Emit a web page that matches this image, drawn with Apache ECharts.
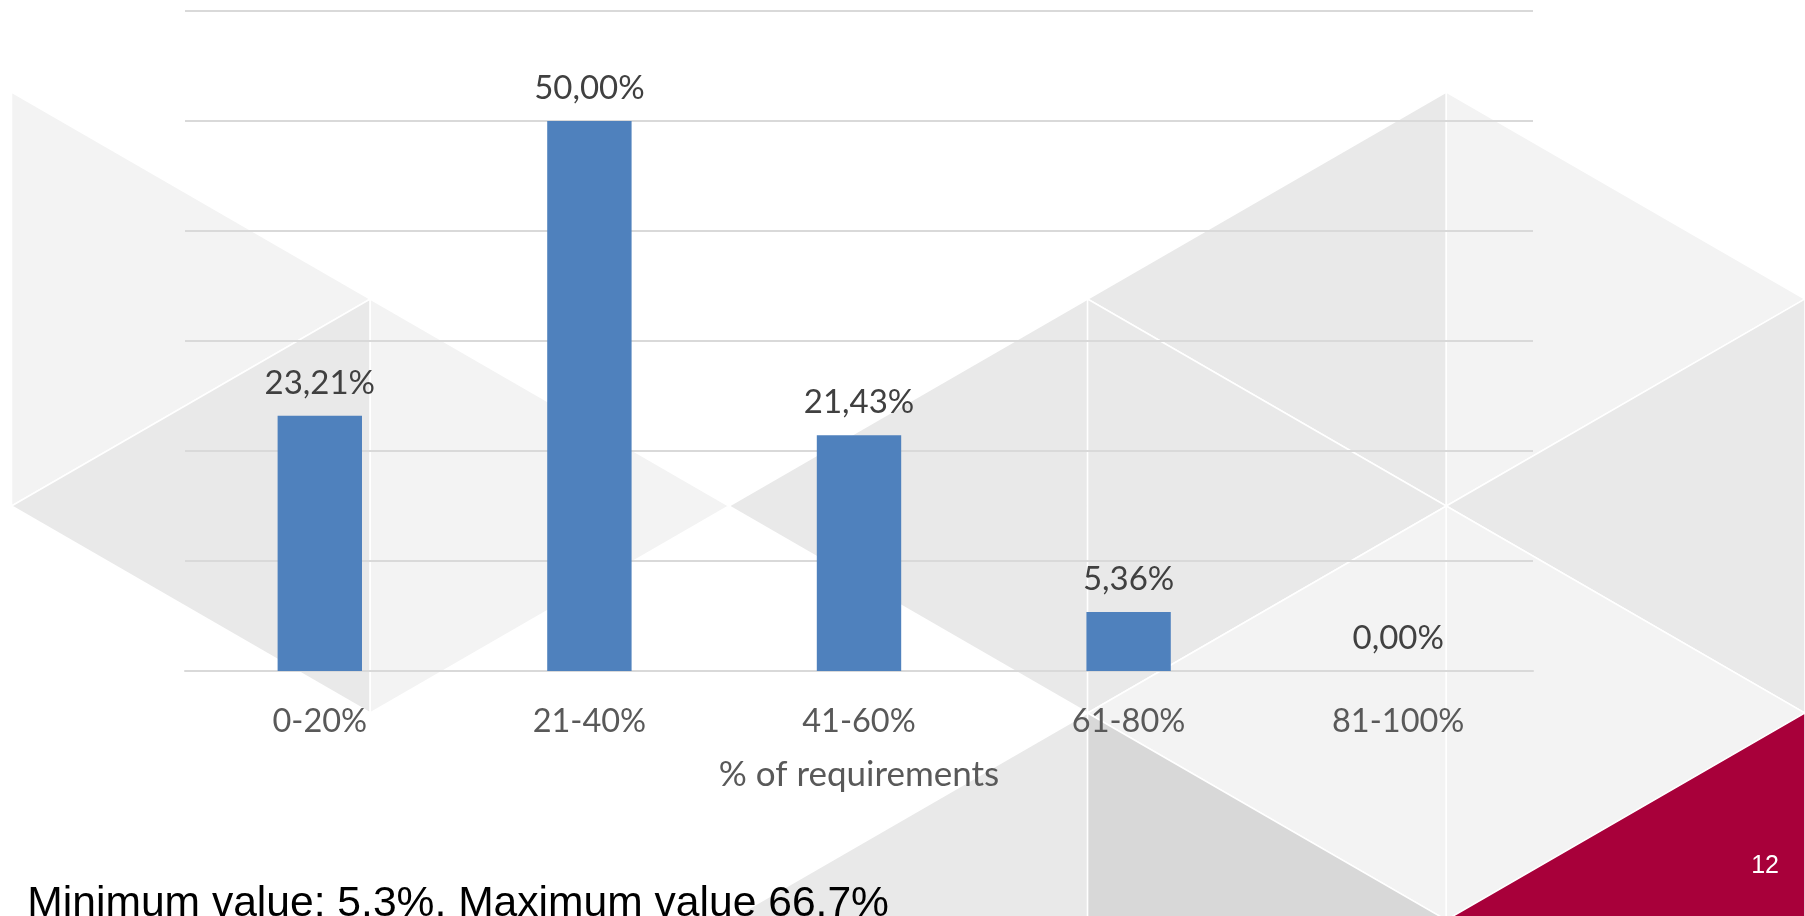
<!DOCTYPE html>
<html>
<head>
<meta charset="utf-8">
<script src="https://cdn.jsdelivr.net/npm/echarts@6/dist/echarts.min.js"></script>
<style>
  html, body { margin: 0; padding: 0; background: #ffffff; }
  #chart { width: 1805px; height: 916px; }
</style>
</head>
<body>
<div id="chart"></div>
<script>
// ---- data ----
const categories = ['0-20%', '21-40%', '41-60%', '61-80%', '81-100%'];
const shares = [23.21, 50.00, 21.43, 5.36, 0.00];
const axisName = '% of requirements';
const footnote = 'Minimum value: 5.3%, Maximum value 66.7%';
const pageNumber = '12';

// ---- background decoration: isometric triangle lattice ----
const X0 = 11.5, DX = 358.7, Y0 = 92, H = 207;
function colX(k) { return X0 + DX * k; }
// triangle: base column b, base top y (lattice), apex column a
function tri(b, yTop, a, color) {
  return {
    type: 'polygon', z: -10, silent: true,
    shape: { points: [[colX(b), yTop], [colX(b), yTop + 2 * H], [colX(a), yTop + H]] },
    style: { fill: color, stroke: '#ffffff', lineWidth: 1.5 }
  };
}
const L1 = '#f3f3f3', L2 = '#e9e9e9', L3 = '#d8d8d8', RED = '#a8003a';
const yE = Y0, yO = Y0 + H; // even / odd column vertex rows
const bg = [
  tri(0, yE, 1, L1),
  tri(1, yO, 0, L2),
  tri(1, yO, 2, L1),
  tri(3, yO, 2, L2),
  tri(3, yO + 2 * H, 2, L2),
  tri(4, yE, 3, L2),
  tri(3, yO, 4, L2),
  tri(4, yE + 2 * H, 3, L1),
  tri(3, yO + 2 * H, 4, L3),
  tri(4, yE, 5, L1),
  tri(5, yO, 4, L2),
  tri(4, yE + 2 * H, 5, L1),
  tri(5, yO + 2 * H, 4, RED)
];

const chart = echarts.init(document.getElementById('chart'), null, { renderer: 'canvas' });
const labelFont = 'Lato, "Open Sans", sans-serif';

chart.setOption({
  backgroundColor: '#ffffff',
  animation: false,
  grid: { left: 185, right: 272, top: 11, bottom: 245, containLabel: false },
  xAxis: {
    type: 'category',
    data: categories,
    axisLine: { show: true, lineStyle: { color: '#d9d9d9', width: 2 } },
    axisTick: { show: false },
    axisLabel: { color: '#595959', fontFamily: labelFont, fontSize: 32.5, margin: 34 },
    name: axisName,
    nameLocation: 'middle',
    nameGap: 86,
    nameTextStyle: { color: '#595959', fontFamily: labelFont, fontSize: 35 }
  },
  yAxis: {
    type: 'value',
    min: 0, max: 60, interval: 10,
    axisLine: { show: false },
    axisTick: { show: false },
    axisLabel: { show: false },
    splitLine: { show: true, lineStyle: { color: '#d9d9d9', width: 2 } }
  },
  series: [{
    type: 'bar',
    data: shares,
    barWidth: '31.3%',
    itemStyle: { color: '#4f81bd' },
    label: {
      show: true,
      position: 'top',
      distance: 16,
      color: '#404040',
      fontFamily: labelFont,
      fontSize: 33,
      formatter: p => p.value.toFixed(2).replace('.', ',') + '%'
    }
  }],
  graphic: bg.concat([
    {
      type: 'text', z: 100, silent: true,
      style: { text: footnote, x: 27.3, y: 904.5, fill: '#000000',
               font: '42.6px "Liberation Sans", Arial, sans-serif', verticalAlign: 'middle', align: 'left' }
    },
    {
      type: 'text', z: 100, silent: true,
      style: { text: pageNumber, x: 1779, y: 866.5, fill: '#ffffff',
               font: '25px "Liberation Sans", Arial, sans-serif', verticalAlign: 'middle', align: 'right' }
    }
  ])
});
</script>
</body>
</html>
